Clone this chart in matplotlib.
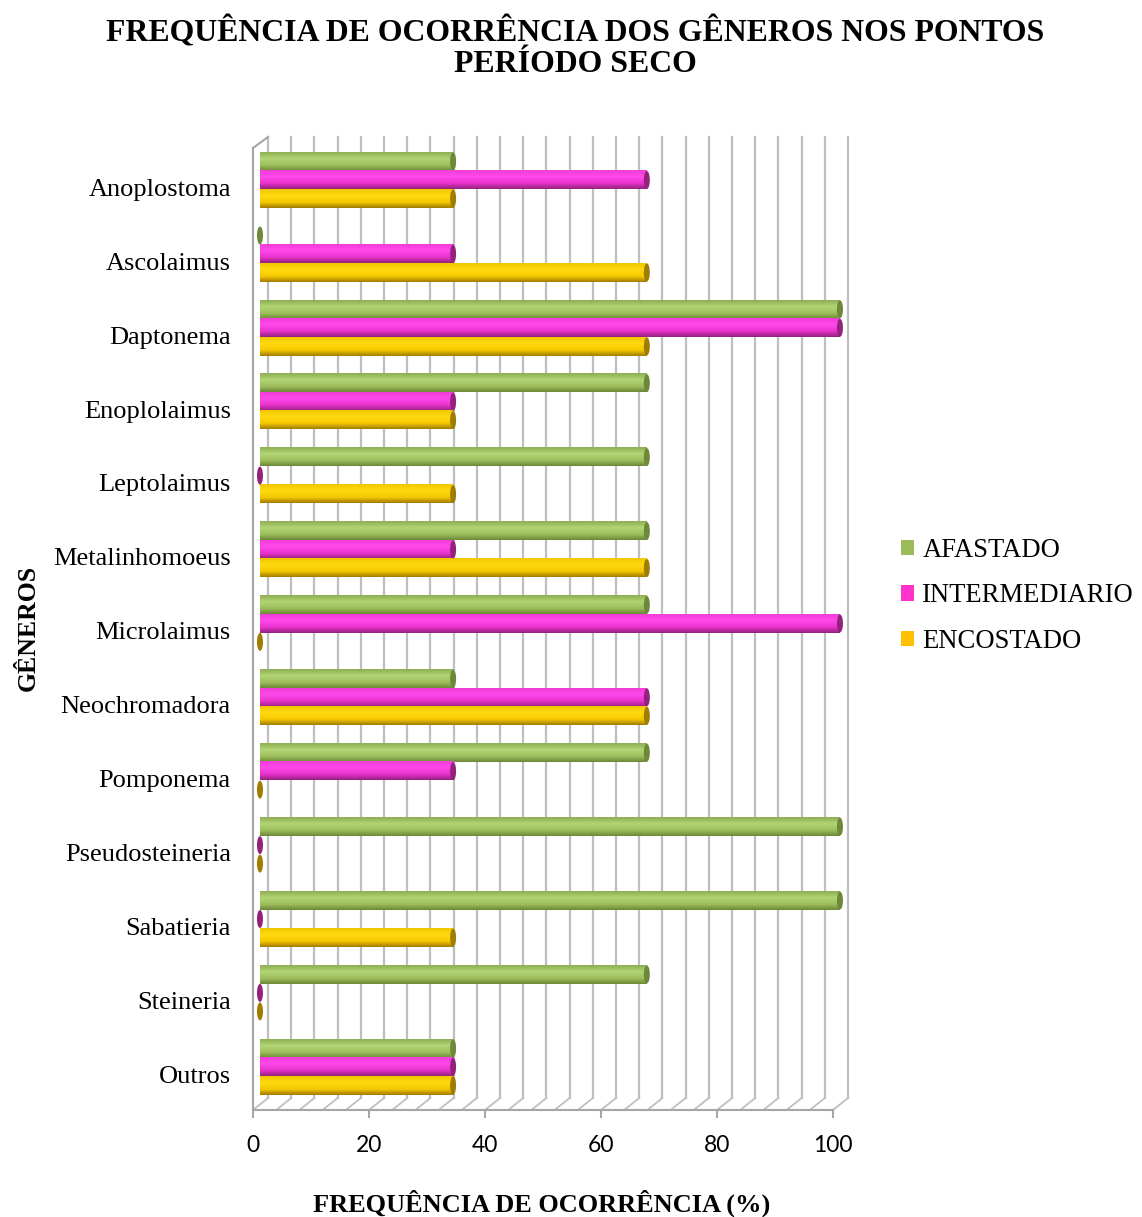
import numpy as np
import matplotlib
matplotlib.use("Agg")
import matplotlib.pyplot as plt
from matplotlib.colors import LinearSegmentedColormap
from matplotlib.patches import Ellipse, Patch

generos = [
    "Anoplostoma", "Ascolaimus", "Daptonema", "Enoplolaimus", "Leptolaimus",
    "Metalinhomoeus", "Microlaimus", "Neochromadora", "Pomponema",
    "Pseudosteineria", "Sabatieria", "Steineria", "Outros",
]
afastado = [33.3, 0, 100, 66.7, 66.7, 66.7, 66.7, 33.3, 66.7, 100, 100, 66.7, 33.3]
intermediario = [66.7, 33.3, 100, 33.3, 0, 33.3, 100, 66.7, 33.3, 0, 0, 0, 33.3]
encostado = [33.3, 66.7, 66.7, 33.3, 33.3, 66.7, 0, 66.7, 0, 0, 33.3, 0, 33.3]
x_ticks = [0, 20, 40, 60, 80, 100]

series = [
    ("AFASTADO", afastado, "#9BBB59",
     ["#8DAE52", "#B3D474", "#9DBE5C", "#6C8838"]),
    ("INTERMEDIARIO", intermediario, "#FF33CC",
     ["#F23ED8", "#FF48EA", "#E832CC", "#92227C"]),
    ("ENCOSTADO", encostado, "#FFC000",
     ["#F2C800", "#FFDA10", "#F5C800", "#A07C00"]),
]

serif = "Liberation Serif"
W, H = 1142, 1217
fig = plt.figure(figsize=(W / 100, H / 100), dpi=100)

# plot box in pixels: front floor at y=1110, front left edge at x=253
px_l, px_r, px_t, px_b = 253, 833, 148, 1110
ax = fig.add_axes([px_l / W, 1 - px_b / H, (px_r - px_l) / W, (px_b - px_t) / H])

row_px = 73.9
y_top = (px_t - 180) / row_px
y_bot = (px_b - 180) / row_px
ux = 100 / (px_r - px_l)          # data units per pixel in x
uy = 1 / row_px                   # rows per pixel in y
dx, dy = 15 * ux, 12 * uy         # depth of the 3D box

grid_c = "#BFBFBF"
edge_c = "#A6A6A6"
# back wall gridlines and floor lines
for k in range(26):
    gx = 4 * k
    ax.plot([gx + dx, gx + dx], [y_top - 11 * uy, y_bot - dy], color=grid_c,
            lw=1.6, clip_on=False, zorder=1)
    ax.plot([gx, gx + dx], [y_bot, y_bot - dy], color=grid_c, lw=1.3,
            clip_on=False, zorder=1)
ax.plot([0, dx], [y_top, y_top - 11 * uy], color=edge_c, lw=1.5, clip_on=False, zorder=1)

# cylinder bars
bar_h = 18.5 * uy
offsets = [-18.5 * uy, 0, 18.5 * uy]
x0 = 1.2
cap_w = 6 * ux
grad = np.linspace(0, 1, 64).reshape(-1, 1)
for (name, vals, base, shades), off in zip(series, offsets):
    cmap = LinearSegmentedColormap.from_list(
        name, list(zip([0, 0.35, 0.7, 1.0], shades)))
    for i, v in enumerate(vals):
        yc = i + off
        if v > 0:
            ax.imshow(grad, cmap=cmap, aspect="auto", interpolation="bilinear",
                      extent=[x0, x0 + v, yc + bar_h / 2, yc - bar_h / 2],
                      clip_on=False, zorder=3)
        ax.add_patch(Ellipse((x0 + v, yc), cap_w, bar_h * 0.97,
                             facecolor=shades[3], edgecolor="none",
                             clip_on=False, zorder=4))

ax.set_xlim(0, 100)
ax.set_ylim(y_bot, y_top)

for s in ["top", "right"]:
    ax.spines[s].set_visible(False)
for s in ["left", "bottom"]:
    ax.spines[s].set_color(edge_c)
    ax.spines[s].set_linewidth(1.5)

ax.set_xticks(x_ticks)
ax.set_xticklabels([str(t) for t in x_ticks], fontfamily="Lato", fontsize=16.5)
ax.tick_params(axis="x", direction="out", length=6, width=1.5, color=edge_c, pad=12)
ax.set_yticks(np.arange(len(generos)) + 0.1)
ax.set_yticklabels(generos, fontfamily=serif, fontsize=19)
ax.tick_params(axis="y", length=0, pad=16)

fig.text(0.5035, 1 - 48 / H,
         "FREQUÊNCIA DE OCORRÊNCIA DOS GÊNEROS NOS PONTOS\nPERÍODO SECO",
         ha="center", va="center", fontfamily=serif, fontsize=22.9,
         fontweight="bold", linespacing=1.08)
fig.text(542 / W, 1 - 1203 / H, "FREQUÊNCIA DE OCORRÊNCIA (%)", ha="center",
         va="center", fontfamily=serif, fontsize=19, fontweight="bold")
fig.text(28 / W, 1 - 628 / H, "GÊNEROS", ha="center", va="center", rotation=90,
         fontfamily=serif, fontsize=18.5, fontweight="bold")

handles = [Patch(facecolor=base, edgecolor="none", label=name)
           for name, _, base, _ in series]
fig.legend(handles=handles, loc="center left",
           bbox_to_anchor=(901 / W, 1 - 596 / H), frameon=False,
           prop={"family": serif, "size": 19.2}, handlelength=0.5,
           handleheight=0.5, handletextpad=0.3, labelspacing=0.78, borderpad=0,
           borderaxespad=0)

fig.savefig("out.png", dpi=100)
